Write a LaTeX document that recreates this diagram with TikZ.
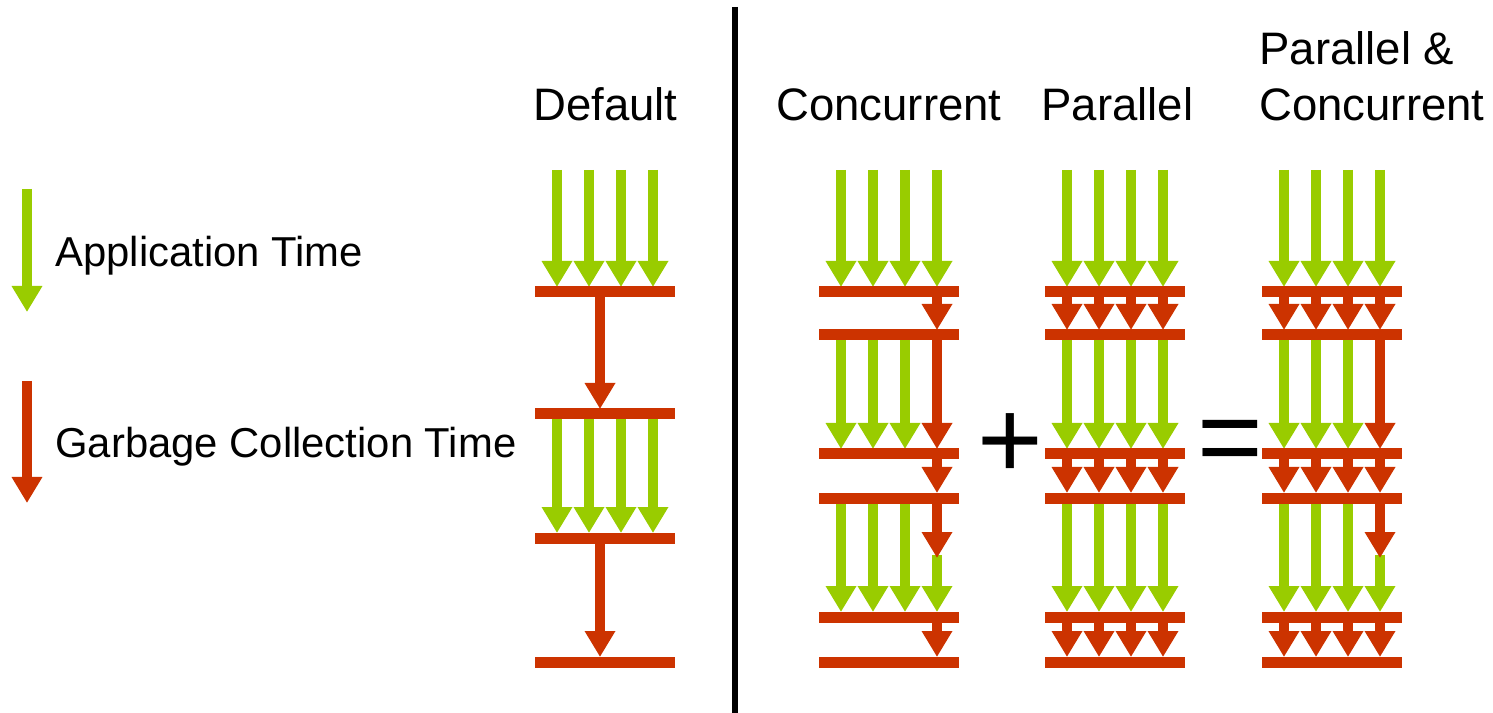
\documentclass[tikz,border=0pt]{standalone}
\usepackage{fontspec}
\setmainfont{Liberation Sans}
\usetikzlibrary{arrows.meta}
\definecolor{appgreen}{HTML}{99CC00}
\definecolor{gcred}{HTML}{CC3300}
\newcommand{\gArrows}[4]{\foreach \k in {#4} {\draw[garr] ({#1+22+32*\k},#2) -- ({#1+22+32*\k},#3);}}
\newcommand{\rArrows}[4]{\foreach \k in {#4} {\draw[rarr] ({#1+22+32*\k},#2) -- ({#1+22+32*\k},#3);}}
\newcommand{\gcBars}[2]{\foreach \yy in {#2} {\draw[gcbar] (#1,\yy) -- ({#1+140},\yy);}}
\begin{document}
\begin{tikzpicture}[x=0.2mm,y=-0.2mm,
  garr/.style={draw=appgreen, line width=2mm, -{Triangle[length=5.2mm,width=5.8mm]}},
  rarr/.style={draw=gcred, line width=2mm, -{Triangle[length=5.2mm,width=5.8mm]}},
  gcbar/.style={draw=gcred, line width=2.2mm},
  title/.style={font=\fontsize{25.9pt}{30pt}\selectfont, inner sep=0pt, anchor=base west},
  legend/.style={font=\fontsize{23.8pt}{28pt}\selectfont, inner sep=0pt, anchor=base west},
  op/.style={font=\fontsize{64pt}{70pt}\selectfont, inner sep=0pt, anchor=base}]
\useasboundingbox (0,0) rectangle (1493,713);
% legend
\coordinate (lg1) at (27,189); \coordinate (lg1e) at (27,312);
\coordinate (lg2) at (27,381); \coordinate (lg2e) at (27,503);
\draw[garr] (lg1) -- (lg1e);
\draw[rarr] (lg2) -- (lg2e);
\node[legend] (tApp) at (55,267) {Application Time};
\node[legend] (tGC) at (55,457) {Garbage Collection Time};
% separator
\coordinate (sepT) at (735,7); \coordinate (sepB) at (735,713);
\draw[line width=1.2mm] (sepT) -- (sepB);
% titles
\node[title] (tD) at (533,121) {Default};
\node[title] (tC) at (776,121) {Concurrent};
\node[title] (tP) at (1041,121) {Parallel};
\node[title] (tPC1) at (1259,65) {Parallel \&};
\node[title] (tPC2) at (1259,121) {Concurrent};
% Default
\gArrows{535}{170}{287}{0,1,2,3}
\coordinate (d1) at (600,292); \coordinate (d1e) at (600,409);
\draw[rarr] (d1) -- (d1e);
\gArrows{535}{414}{533}{0,1,2,3}
\coordinate (d2) at (600,538); \coordinate (d2e) at (600,657);
\draw[rarr] (d2) -- (d2e);
\gcBars{535}{292,414,538,662}
% Concurrent
\gArrows{819}{170}{287}{0,1,2,3}
\rArrows{819}{292}{330}{3}
\gArrows{819}{335}{449}{0,1,2}
\rArrows{819}{335}{449}{3}
\rArrows{819}{454}{493}{3}
\gArrows{819}{498}{612}{0,1,2}
\gArrows{819}{555}{612}{3}
\rArrows{819}{498}{558}{3}
\rArrows{819}{617}{657}{3}
\gcBars{819}{292,335,454,498,617,662}
% Parallel
\gArrows{1045}{170}{287}{0,1,2,3}
\rArrows{1045}{292}{330}{0,1,2,3}
\gArrows{1045}{335}{449}{0,1,2,3}
\rArrows{1045}{454}{493}{0,1,2,3}
\gArrows{1045}{498}{612}{0,1,2,3}
\rArrows{1045}{617}{657}{0,1,2,3}
\gcBars{1045}{292,335,454,498,617,662}
% Parallel & Concurrent
\gArrows{1262}{170}{287}{0,1,2,3}
\rArrows{1262}{292}{330}{0,1,2,3}
\gArrows{1262}{335}{449}{0,1,2}
\rArrows{1262}{335}{449}{3}
\rArrows{1262}{454}{493}{0,1,2,3}
\gArrows{1262}{498}{612}{0,1,2}
\gArrows{1262}{555}{612}{3}
\rArrows{1262}{498}{558}{3}
\rArrows{1262}{617}{657}{0,1,2,3}
\gcBars{1262}{292,335,454,498,617,662}
% operators
\node[op] (plus) at (1010,479) {+};
\node[op] (eq) at (1230,476) {=};
\end{tikzpicture}
\end{document}
